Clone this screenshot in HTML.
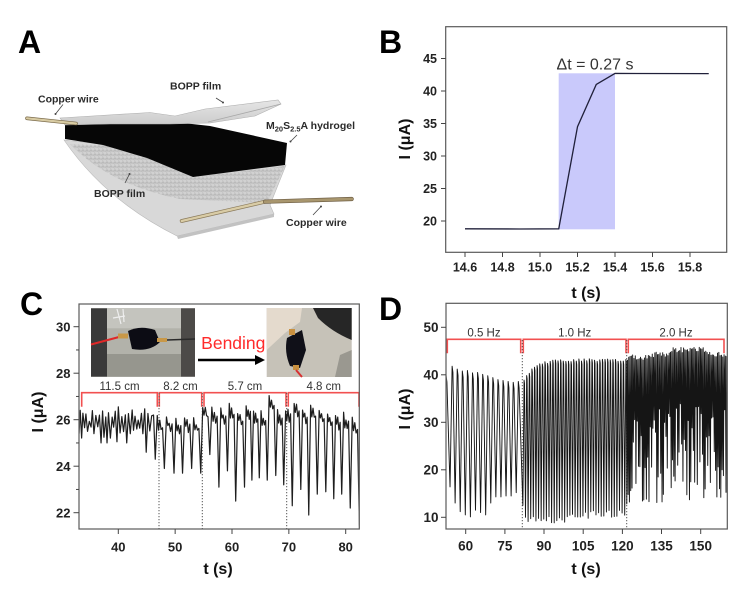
<!DOCTYPE html>
<html>
<head>
<meta charset="utf-8">
<style>
html,body{margin:0;padding:0;background:#fff;}
svg{display:block;}
text{font-family:"Liberation Sans",Arial,sans-serif;}
.tk{stroke:#444;stroke-width:1;}
.lab{font-size:12.5px;font-weight:bold;fill:#222;}
.labc{font-size:13px;font-weight:bold;fill:#222;}
.labd{font-size:13.5px;font-weight:bold;fill:#222;}
.ax{font-size:16px;font-weight:bold;fill:#111;}
.pl{font-size:32px;font-weight:bold;fill:#000;}
.al{font-size:10.5px;font-weight:bold;fill:#2a2a2a;}
.br{fill:none;stroke:#f25050;stroke-width:1.6;}
.bl{font-size:11.5px;fill:#333;}
.dot{stroke:#555;stroke-width:1;stroke-dasharray:1.2 1.8;}
.ptr{stroke:#444;stroke-width:0.8;fill:none;}
</style>
</head>
<body>
<svg width="755" height="592" viewBox="0 0 755 592" xmlns="http://www.w3.org/2000/svg">
<defs>
  <pattern id="spk" width="4" height="4" patternUnits="userSpaceOnUse">
    <rect width="4" height="4" fill="#c6c6c6"/>
    <circle cx="1" cy="1" r="0.6" fill="#ececec"/>
    <circle cx="3" cy="2.6" r="0.5" fill="#a4a4a4"/>
    <circle cx="3.3" cy="0.6" r="0.4" fill="#dedede"/>
    <circle cx="1.2" cy="3.2" r="0.4" fill="#b0b0b0"/>
  </pattern>
  <linearGradient id="tf" x1="0" y1="0" x2="0" y2="1">
    <stop offset="0" stop-color="#e6e6e6"/>
    <stop offset="1" stop-color="#cbcbcb"/>
  </linearGradient>
  <clipPath id="clipC"><rect x="79.6" y="304.6" width="279.2" height="224"/></clipPath>
  <clipPath id="clipD"><rect x="446.6" y="303.9" width="280.2" height="224.6"/></clipPath>
</defs>

<!-- ================= PANEL A ================= -->
<text class="pl" x="18" y="53">A</text>
<path d="M64,140 Q105,200 177,236 L274,214 L270,205 L286,165 Z" fill="#d8d8d8" stroke="#b8b8b8" stroke-width="0.6"/>
<path d="M177,236 L274,214 L274,217 L178,239 Z" fill="#c2c2c2"/>
<path d="M70,144 Q110,185 180,199 L267,203 L285,166 L193,177 L147,158 L103,145 Z" fill="url(#spk)"/>
<polyline points="181.7,221 265,201.7" fill="none" stroke="#8a7a5a" stroke-width="3.8" stroke-linecap="round"/>
<polyline points="181.7,221 265,201.7" fill="none" stroke="#d9cca6" stroke-width="2.4" stroke-linecap="round"/>
<polyline points="265,201.7 351.7,199" fill="none" stroke="#6e5e44" stroke-width="4.2" stroke-linecap="round"/>
<polyline points="265,201.7 351.7,199" fill="none" stroke="#a8966e" stroke-width="2.8" stroke-linecap="round"/>
<polygon points="65,123 110,121.5 165,121 210,126 287,143 285,165 193,177 147,158 103,145 65,139" fill="#060606"/>
<polygon points="60,118 150,112.5 175,116 205,109 278,100 281,104 255,116 210,123 170,124 110,124 65,125" fill="url(#tf)" stroke="#b0b0b0" stroke-width="0.6"/>
<line x1="208" y1="122" x2="281" y2="104" stroke="#a8a8a8" stroke-width="0.8"/>
<line x1="27" y1="118.3" x2="76" y2="123.5" stroke="#7a6a4a" stroke-width="3.6" stroke-linecap="round"/>
<line x1="27" y1="118.3" x2="76" y2="123.5" stroke="#d8cba3" stroke-width="2.2" stroke-linecap="round"/>
<text class="al" x="38" y="102.5">Copper wire</text>
<text class="al" x="170" y="89.5">BOPP film</text>
<text class="al" x="266" y="129">M<tspan font-size="7.5" dy="2.5">20</tspan><tspan dy="-2.5">S</tspan><tspan font-size="7.5" dy="2.5">2.5</tspan><tspan dy="-2.5">A hydrogel</tspan></text>
<text class="al" x="94" y="197">BOPP film</text>
<text class="al" x="286" y="226">Copper wire</text>
<path class="ptr" d="M63,104.5 L55.5,114"/><circle cx="55.5" cy="114" r="1" fill="#444"/>
<path class="ptr" d="M216,98 L223,102.5"/><circle cx="223" cy="102.5" r="1" fill="#444"/>
<path class="ptr" d="M297,135 L290.5,141.5"/><circle cx="290.5" cy="141.5" r="1" fill="#444"/>
<path class="ptr" d="M125,183 L129.5,174"/><circle cx="129.5" cy="174" r="1" fill="#444"/>
<path class="ptr" d="M313,215 L321,206.5"/><circle cx="321" cy="206.5" r="1" fill="#444"/>

<!-- ================= PANEL B ================= -->
<text class="pl" x="379" y="53">B</text>
<rect x="558.7" y="73.3" width="56.3" height="156" fill="#c9c9fb"/>
<polyline points="465,228.8 520,229 558.75,228.8 577.5,126.75 596.25,84.5 615,73.45 708.75,73.6" fill="none" stroke="#20203a" stroke-width="1.3"/>
<text x="556.5" y="69.5" font-size="16" fill="#333">Δt = 0.27 s</text>
<rect x="445.7" y="26.7" width="281" height="225.6" fill="none" stroke="#5a5a5a" stroke-width="1.2"/>
<g class="tk">
<line x1="441" y1="221" x2="445.7" y2="221"/>
<line x1="441" y1="188.5" x2="445.7" y2="188.5"/>
<line x1="441" y1="156" x2="445.7" y2="156"/>
<line x1="441" y1="123.5" x2="445.7" y2="123.5"/>
<line x1="441" y1="91" x2="445.7" y2="91"/>
<line x1="441" y1="58.5" x2="445.7" y2="58.5"/>
<line x1="465" y1="252.3" x2="465" y2="257"/>
<line x1="502.5" y1="252.3" x2="502.5" y2="257"/>
<line x1="540" y1="252.3" x2="540" y2="257"/>
<line x1="577.5" y1="252.3" x2="577.5" y2="257"/>
<line x1="615" y1="252.3" x2="615" y2="257"/>
<line x1="652.5" y1="252.3" x2="652.5" y2="257"/>
<line x1="690" y1="252.3" x2="690" y2="257"/>
</g>
<g class="lab" text-anchor="end">
<text x="437" y="225.3">20</text>
<text x="437" y="192.8">25</text>
<text x="437" y="160.3">30</text>
<text x="437" y="127.8">35</text>
<text x="437" y="95.3">40</text>
<text x="437" y="62.8">45</text>
</g>
<g class="lab" text-anchor="middle">
<text x="465" y="271.5">14.6</text>
<text x="502.5" y="271.5">14.8</text>
<text x="540" y="271.5">15.0</text>
<text x="577.5" y="271.5">15.2</text>
<text x="615" y="271.5">15.4</text>
<text x="652.5" y="271.5">15.6</text>
<text x="690" y="271.5">15.8</text>
</g>
<text class="ax" x="586" y="298" text-anchor="middle">t (s)</text>
<text class="ax" transform="translate(410,139) rotate(-90)" text-anchor="middle">I (μA)</text>

<!-- ================= PANEL C ================= -->
<text class="pl" x="20" y="315">C</text>
<g>
  <rect x="91" y="308.3" width="104" height="68.4" fill="#8e8e88"/>
  <rect x="107" y="308.3" width="74" height="68.4" fill="#b2b2aa"/>
  <rect x="107" y="308.3" width="74" height="20" fill="#c4c4be"/>
  <rect x="107" y="354" width="74" height="22.7" fill="#96968e"/>
  <rect x="91" y="308.3" width="16" height="68.4" fill="#3a3a3a"/>
  <rect x="181" y="308.3" width="14" height="68.4" fill="#4c4a48"/>
  <path d="M117,309 L121,324 M123,309 L124,322 M113,318 L125,316" stroke="#eeeeee" stroke-width="1.2" fill="none"/>
  <path d="M128,331 Q140,325 155,330 L160,342 Q150,352 132,349 Z" fill="#0c0c14"/>
  <line x1="91" y1="344.5" x2="119" y2="337" stroke="#e02828" stroke-width="2"/>
  <rect x="118" y="333.5" width="10" height="5" fill="#c89848"/>
  <rect x="157" y="338" width="10" height="4" fill="#c89848"/>
  <line x1="167" y1="340" x2="195" y2="339" stroke="#2a2a2a" stroke-width="1.5"/>
</g>
<g>
  <rect x="266.7" y="308" width="85" height="69" fill="#c6c2b8"/>
  <path d="M266.7,308 L302,308 L300,322 L285,333 L266.7,350 Z" fill="#e4dacd"/>
  <path d="M313,308 L351.7,308 L351.7,340 Q332,332 318,318 Z" fill="#262626"/>
  <path d="M340,355 L351.7,350 L351.7,377 L335,377 Z" fill="#9a9890"/>
  <path d="M287,338 L302,330 L306,350 L300,368 L290,366 Q284,352 287,338 Z" fill="#101018"/>
  <rect x="289" y="329" width="6" height="6" fill="#c89040"/>
  <rect x="293" y="365" width="6" height="5" fill="#c89040"/>
  <line x1="296" y1="370" x2="302" y2="377" stroke="#d83030" stroke-width="2"/>
</g>
<text x="233.3" y="349" font-size="17.5" fill="#ff2a2a" text-anchor="middle">Bending</text>
<line x1="198" y1="360" x2="257" y2="360" stroke="#000" stroke-width="2.6"/>
<polygon points="255,355 265,360 255,365" fill="#000"/>
<path class="br" d="M81.7,406.7 L81.7,392.7 L157.3,392.7 L157.3,406.7"/>
<path class="br" d="M159.3,406.7 L159.3,392.7 L201.7,392.7 L201.7,406.7"/>
<path class="br" d="M204,406.7 L204,392.7 L286,392.7 L286,406.7"/>
<path class="br" d="M288.3,406.7 L288.3,392.7 L359,392.7 L359,406.7"/>
<g class="bl" text-anchor="middle">
<text x="119.5" y="390">11.5 cm</text>
<text x="180.5" y="390">8.2 cm</text>
<text x="245" y="390">5.7 cm</text>
<text x="323.7" y="390">4.8 cm</text>
</g>
<line class="dot" x1="159" y1="393" x2="159" y2="529"/>
<line class="dot" x1="202.3" y1="393" x2="202.3" y2="529"/>
<line class="dot" x1="286.7" y1="393" x2="286.7" y2="529"/>
<polyline id="lineC" clip-path="url(#clipC)" fill="none" stroke="#1e1e1e" stroke-width="1.2" stroke-linejoin="round" points=""/>
<rect x="79" y="304" width="280.3" height="225" fill="none" stroke="#5a5a5a" stroke-width="1.2"/>
<g class="tk">
<line x1="73.5" y1="326.7" x2="79" y2="326.7"/>
<line x1="73.5" y1="373.2" x2="79" y2="373.2"/>
<line x1="73.5" y1="419.7" x2="79" y2="419.7"/>
<line x1="73.5" y1="466.2" x2="79" y2="466.2"/>
<line x1="73.5" y1="512.7" x2="79" y2="512.7"/>
<line x1="76" y1="349.95" x2="79" y2="349.95"/>
<line x1="76" y1="396.45" x2="79" y2="396.45"/>
<line x1="76" y1="442.95" x2="79" y2="442.95"/>
<line x1="76" y1="489.45" x2="79" y2="489.45"/>
<line x1="118.3" y1="529" x2="118.3" y2="534"/>
<line x1="175.15" y1="529" x2="175.15" y2="534"/>
<line x1="232" y1="529" x2="232" y2="534"/>
<line x1="288.85" y1="529" x2="288.85" y2="534"/>
<line x1="345.7" y1="529" x2="345.7" y2="534"/>
</g>
<g class="labc" text-anchor="end">
<text x="70.5" y="331.3">30</text>
<text x="70.5" y="377.8">28</text>
<text x="70.5" y="424.3">26</text>
<text x="70.5" y="470.8">24</text>
<text x="70.5" y="517.3">22</text>
</g>
<g class="labc" text-anchor="middle">
<text x="118.3" y="551.5">40</text>
<text x="175.15" y="551.5">50</text>
<text x="232" y="551.5">60</text>
<text x="288.85" y="551.5">70</text>
<text x="345.7" y="551.5">80</text>
</g>
<text class="ax" x="218" y="574" text-anchor="middle">t (s)</text>
<text class="ax" transform="translate(43,412) rotate(-90)" text-anchor="middle">I (μA)</text>

<!-- ================= PANEL D ================= -->
<text class="pl" x="379" y="320">D</text>
<path class="br" d="M447.3,353.3 L447.3,339.3 L520.7,339.3 L520.7,353.3"/>
<path class="br" d="M523.3,353.3 L523.3,339.3 L626,339.3 L626,353.3"/>
<path class="br" d="M628.3,353.3 L628.3,339.3 L724,339.3 L724,353.3"/>
<g class="bl" text-anchor="middle">
<text x="484" y="336.5">0.5 Hz</text>
<text x="574.7" y="336.5">1.0 Hz</text>
<text x="676" y="336.5">2.0 Hz</text>
</g>
<line class="dot" x1="522.3" y1="340" x2="522.3" y2="529"/>
<line class="dot" x1="626.7" y1="340" x2="626.7" y2="529"/>
<polyline id="lineD" clip-path="url(#clipD)" fill="none" stroke="#151515" stroke-width="0.95" stroke-linejoin="round" points=""/>
<rect x="446" y="303.3" width="281.3" height="225.7" fill="none" stroke="#5a5a5a" stroke-width="1.2"/>
<g class="tk">
<line x1="441" y1="327.3" x2="446" y2="327.3"/>
<line x1="441" y1="374.8" x2="446" y2="374.8"/>
<line x1="441" y1="422.3" x2="446" y2="422.3"/>
<line x1="441" y1="469.8" x2="446" y2="469.8"/>
<line x1="441" y1="517.3" x2="446" y2="517.3"/>
<line x1="465.7" y1="529" x2="465.7" y2="534"/>
<line x1="504.9" y1="529" x2="504.9" y2="534"/>
<line x1="544" y1="529" x2="544" y2="534"/>
<line x1="583.2" y1="529" x2="583.2" y2="534"/>
<line x1="622.4" y1="529" x2="622.4" y2="534"/>
<line x1="661.5" y1="529" x2="661.5" y2="534"/>
<line x1="700.7" y1="529" x2="700.7" y2="534"/>
</g>
<g class="labd" text-anchor="end">
<text x="438.5" y="332">50</text>
<text x="438.5" y="379.5">40</text>
<text x="438.5" y="427">30</text>
<text x="438.5" y="474.5">20</text>
<text x="438.5" y="522">10</text>
</g>
<g class="labd" text-anchor="middle">
<text x="465.7" y="550.5">60</text>
<text x="504.9" y="550.5">75</text>
<text x="544" y="550.5">90</text>
<text x="583.2" y="550.5">105</text>
<text x="622.4" y="550.5">120</text>
<text x="661.5" y="550.5">135</text>
<text x="700.7" y="550.5">150</text>
</g>
<text class="ax" x="586" y="574" text-anchor="middle">t (s)</text>
<text class="ax" transform="translate(410,409) rotate(-90)" text-anchor="middle">I (μA)</text>
</svg>

<script>
(function(){
  function R(seed){var s=seed;return function(){s=(s*1664525+1013904223)%4294967296;return s/4294967296;};}
  var r=R(12345);
  function cx(t){return 118.3+(t-40)*5.685;}
  function cy(v){return 326.7+(30-v)*23.25;}
  var C=[[33.1,25.4],[33.3,26.4]];
  var t=33.55,up=false,troughIdx=[];
  while(t<46.1){
    var v;
    if(up){v=25.9+r()*0.7;}else{v=25.2+r()*0.5;troughIdx.push(C.length);}
    C.push([t,v]);
    t+=0.22+r()*0.12;up=!up;
  }
  var dips1=[[36.8,25.0],[38.2,25.0],[40.0,25.05],[41.6,25.0],[45.0,24.6]];
  dips1.forEach(function(d){
    var best=-1,bd=1e9;
    troughIdx.forEach(function(i){var dd=Math.abs(C[i][0]-d[0]);if(dd<bd){bd=dd;best=i;}});
    if(best>=0){C[best][1]=d[1];}
  });
  C.push([46.2,26.2]);
  var dips=[[46.5,24.3],[48.1,23.9],[49.8,23.7],[51.3,23.7],[52.9,23.9],[54.5,23.7],[56.1,24.5],[57.7,23.1],[59.2,23.8],[60.65,22.5],[62.2,23.1],[63.5,23.4],[64.8,23.5],[66.2,23.4],[67.7,23.6],[69.1,23.2],[70.6,22.3],[72.1,23.0],[73.5,21.9],[75.0,22.8],[76.5,22.9],[77.9,22.6],[79.3,22.8],[80.8,22.2],[82.4,21.5]];
  var pks=[26.1,26.1,26.0,26.1,26.0,26.6,26.5,26.4,26.6,26.3,26.6,26.4,26.3,27.0,26.4,26.5,26.8,26.5,26.6,26.5,26.3,26.2,26.2,26.0];
  var fr=[0.22,0.36,0.5,0.64,0.8],off=[0,-0.45,-0.15,-0.55,-0.35];
  for(var i=0;i<dips.length;i++){
    C.push(dips[i]);
    if(i<dips.length-1){
      var t1=dips[i][0],g=dips[i+1][0]-t1,pk=pks[i];
      for(var k=0;k<fr.length;k++){
        C.push([t1+fr[k]*g,pk+off[k]+(r()-0.5)*0.25]);
      }
    }
  }
  C.push([82.6,20.8]);
  document.getElementById('lineC').setAttribute('points',C.map(function(p){return cx(p[0]).toFixed(2)+','+cy(p[1]).toFixed(2);}).join(' '));

  var q=R(987);
  function dx(t){return 465.7+(t-60)*2.611;}
  function dy(v){return 327.3+(50-v)*4.75;}
  var D=[[52.4,40.2],[52.8,38.5]];
  var tr05=[16.4,13,11.2,10.5,10.1,11.5,11,10.5,13,14.3,14.3,14.5,14.5,15.2];
  var pk05=[41.8,41.2,40.8,40.9,40.4,40.5,40.1,39.8,39.4,39.0,38.8,38.6,38.4,38.6];
  for(var i=0;i<14;i++){
    var T=54.0+i*1.95;
    D.push([T,tr05[i]]);
    D.push([T+0.8,pk05[i]]);
    D.push([T+1.1,pk05[i]-1.3]);
  }
  for(var k=0;k<40;k++){
    var T=81.9+k*1.0;
    var tr=(k==0)?12.5:(k<18?8.8+q()*1.5:9.8+q()*1.7);
    var pk=43.1-4.3*Math.exp(-k/4)+(q()-0.5)*0.6;
    D.push([T,tr]);
    D.push([T+0.45,pk]);
    D.push([T+0.62,pk-0.7]);
  }
  var T=121.7;
  while(T<160.6){
    var tr;
    if(T<124){tr=12+q()*6;}
    else{tr=(q()<0.42)?(13+q()*8):(20+q()*14);}
    var base;
    if(T<130)base=43.6;else if(T<138)base=44.2;else if(T<152)base=45.2;else base=44.3;
    var pk=base+(q()-0.5)*1.2;
    D.push([T,tr]);
    D.push([T+0.25,pk]);
    T+=0.5;
  }
  document.getElementById('lineD').setAttribute('points',D.map(function(p){return dx(p[0]).toFixed(2)+','+dy(p[1]).toFixed(2);}).join(' '));
})();
</script>
</body>
</html>
